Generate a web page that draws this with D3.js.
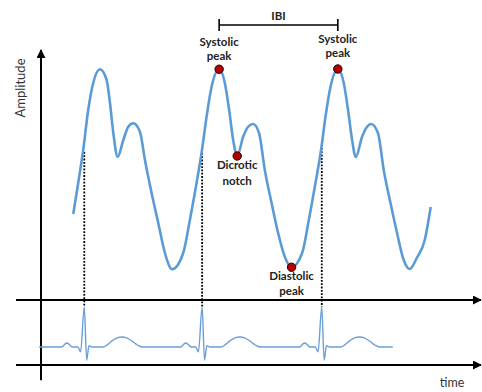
<!DOCTYPE html>
<html>
<head>
<meta charset="utf-8">
<script src="https://cdn.jsdelivr.net/npm/d3@7"></script>
<style>
body { margin: 0; background: #fff; }
svg { display: block; }
</style>
</head>
<body>
<script>
// PPG pulse wave (time in s, amplitude in a.u.)
var ppgTime = [0.271, 0.313, 0.355, 0.397, 0.439, 0.496, 0.552, 0.580, 0.608, 0.645,
	0.692, 0.734, 0.776, 0.832, 0.874, 0.930, 0.986, 1.042, 1.103,
	1.196, 1.252, 1.308, 1.350, 1.392, 1.434, 1.498, 1.546, 1.582, 1.616, 1.650,
	1.700, 1.742, 1.784, 1.834, 1.882, 1.939, 1.994, 2.050, 2.107,
	2.196, 2.252, 2.308, 2.355, 2.392, 2.434, 2.496, 2.546, 2.582, 2.616, 2.647,
	2.700, 2.742, 2.776, 2.834, 2.882, 2.939, 2.994, 3.050, 3.101,
	3.160, 3.227, 3.277]
var ppgAmp = [34.4, 46.8, 60.0, 76.0, 86.8, 92.3, 88.0, 78.8, 66.8, 57.3,
	64.0, 69.3, 70.7, 67.3, 56.0, 42.8, 30.8, 18.8, 12.3,
	18.8, 32.0, 46.8, 58.8, 73.2, 85.2, 92.3, 86.8, 76.0, 64.0, 57.6,
	65.3, 69.3, 70.4, 66.7, 52.0, 38.8, 26.8, 17.3, 13.1,
	18.8, 32.0, 46.8, 60.0, 73.2, 85.2, 92.4, 86.8, 76.0, 64.0, 57.2,
	65.3, 69.3, 70.4, 66.7, 52.0, 38.8, 26.8, 16.0, 12.4,
	16.8, 24.0, 37.2]

// ECG trace (time in s, mV)
var ecgTime = [-0.015, 0.176, 0.200, 0.218, 0.236, 0.261, 0.310, 0.333, 0.364, 0.384, 0.403, 0.430,
	0.521, 0.560, 0.600, 0.640, 0.681, 0.720, 0.765, 0.810, 0.849,
	1.176, 1.200, 1.218, 1.236, 1.261, 1.301, 1.324, 1.355, 1.375, 1.394, 1.421,
	1.512, 1.551, 1.591, 1.631, 1.672, 1.711, 1.756, 1.801, 1.840,
	2.176, 2.200, 2.218, 2.236, 2.261, 2.307, 2.330, 2.361, 2.381, 2.400, 2.427,
	2.518, 2.557, 2.597, 2.637, 2.678, 2.717, 2.762, 2.807, 2.846, 2.958]
var ecgMv = [0, 0, 0.07, 0.10, 0.07, 0, 0, -0.12, 1.0, -0.33, 0.03, 0,
	0, 0.06, 0.16, 0.23, 0.25, 0.23, 0.15, 0.05, 0,
	0, 0.07, 0.10, 0.07, 0, 0, -0.12, 1.0, -0.33, 0.03, 0,
	0, 0.06, 0.16, 0.23, 0.25, 0.23, 0.15, 0.05, 0,
	0, 0.07, 0.10, 0.07, 0, 0, -0.12, 1.0, -0.33, 0.03, 0,
	0, 0.06, 0.16, 0.23, 0.25, 0.23, 0.15, 0.05, 0, 0]

// R peaks and where the dotted line meets the pulse wave
var rPeakTime = [0.364, 1.355, 2.361]
var rPeakPpg = [59.2, 58.8, 60.8]

// annotated points on the pulse wave
var markerName = ["Systolic peak", "Dicrotic notch", "Diastolic peak", "Systolic peak"]
var markerTime = [1.498, 1.650, 2.107, 2.496]
var markerAmp = [92.3, 57.6, 13.1, 92.4]

var width = 482, height = 392

var svg = d3.select("body").append("svg")
	.attr("width", width)
	.attr("height", height)

var x = d3.scaleLinear().domain([0, 3.7]).range([41, 481])
var y = d3.scaleLinear().domain([0, 100]).range([300, 50])
var yEcg = d3.scaleLinear().domain([0, 1]).range([347, 307])

var defs = svg.append("defs")
defs.append("marker")
	.attr("id", "arrow")
	.attr("viewBox", "0 0 10 10")
	.attr("refX", 9).attr("refY", 5)
	.attr("markerWidth", 4.5).attr("markerHeight", 4.5)
	.attr("markerUnits", "strokeWidth")
	.attr("orient", "auto")
	.append("path")
	.attr("d", "M0,0L10,5L0,10Z")
	.attr("fill", "#000")

// axes
svg.append("line")
	.attr("x1", x(0)).attr("y1", yEcg(-0.83))
	.attr("x2", x(0)).attr("y2", y(100))
	.attr("stroke", "#000").attr("stroke-width", 2)
	.attr("marker-end", "url(#arrow)")

svg.append("line")
	.attr("x1", x(-0.21)).attr("y1", y(0))
	.attr("x2", x(3.7)).attr("y2", y(0))
	.attr("stroke", "#000").attr("stroke-width", 2)
	.attr("marker-end", "url(#arrow)")

svg.append("line")
	.attr("x1", x(-0.21)).attr("y1", yEcg(-0.45))
	.attr("x2", x(3.7)).attr("y2", yEcg(-0.45))
	.attr("stroke", "#000").attr("stroke-width", 2)
	.attr("marker-end", "url(#arrow)")

svg.append("text")
	.attr("transform", "translate(25," + 88 + ") rotate(-90)")
	.attr("text-anchor", "middle")
	.style("font-family", "Lato, sans-serif")
	.style("font-size", "13px")
	.attr("fill", "#333")
	.text("Amplitude")

svg.append("text")
	.attr("x", 452).attr("y", 387)
	.attr("text-anchor", "middle")
	.style("font-family", "Lato, sans-serif")
	.style("font-size", "12.5px")
	.attr("fill", "#333")
	.text("time")

// dotted lines from R peak up to the pulse wave
svg.selectAll(".rline")
	.data(rPeakTime)
	.enter().append("line")
	.attr("class", "rline")
	.attr("x1", function(d){ return x(d) })
	.attr("x2", function(d){ return x(d) })
	.attr("y1", function(d, i){ return y(rPeakPpg[i]) })
	.attr("y2", yEcg(1))
	.attr("stroke", "#000")
	.attr("stroke-width", 1.8)
	.attr("stroke-dasharray", "1.8,1.5")

// ECG
var ecgLine = d3.line()
	.x(function(d, i){ return x(ecgTime[i]) })
	.y(function(d){ return yEcg(d) })
	.curve(d3.curveMonotoneX)

svg.append("path")
	.attr("d", ecgLine(ecgMv))
	.attr("fill", "none")
	.attr("stroke", "#6a9fd6")
	.attr("stroke-width", 1.4)

// PPG
var ppgLine = d3.line()
	.x(function(d, i){ return x(ppgTime[i]) })
	.y(function(d){ return y(d) })
	.curve(d3.curveMonotoneX)

svg.append("path")
	.attr("d", ppgLine(ppgAmp))
	.attr("fill", "none")
	.attr("stroke", "#5b9bd5")
	.attr("stroke-width", 2.6)
	.attr("stroke-linejoin", "round")

// IBI bracket between the systolic peaks
var ibiY = 25
var ibi = svg.append("g")
	.attr("stroke", "#000").attr("stroke-width", 1.6)
ibi.append("line")
	.attr("x1", x(markerTime[0])).attr("x2", x(markerTime[3]))
	.attr("y1", ibiY).attr("y2", ibiY)
ibi.selectAll(".tick")
	.data([markerTime[0], markerTime[3]])
	.enter().append("line")
	.attr("x1", function(d){ return x(d) }).attr("x2", function(d){ return x(d) })
	.attr("y1", ibiY - 6).attr("y2", ibiY + 6)

svg.append("text")
	.attr("x", (x(markerTime[0]) + x(markerTime[3])) / 2)
	.attr("y", 19.5)
	.attr("text-anchor", "middle")
	.style("font-family", "Lato, sans-serif")
	.style("font-size", "11.5px")
	.style("font-weight", "bold")
	.attr("fill", "#222")
	.text("IBI")

// markers
svg.selectAll(".dot")
	.data(markerAmp)
	.enter().append("circle")
	.attr("class", "dot")
	.attr("cx", function(d, i){ return x(markerTime[i]) })
	.attr("cy", function(d){ return y(d) })
	.attr("r", 4.2)
	.attr("fill", "#b50000")
	.attr("stroke", "#2a0000")
	.attr("stroke-width", 1)

// label offsets (first line, second line) relative to each dot
var labelDy = [[-23, -9.5], [13, 28.5], [13, 27.5], [-26, -12.5]]

markerName.forEach(function(name, i){
	var words = name.split(" ")
	var t = svg.append("text")
		.attr("text-anchor", "middle")
		.style("font-family", "Lato, sans-serif")
		.style("font-size", "11.5px")
		.style("font-weight", "bold")
		.attr("fill", "#222")
	words.forEach(function(w, j){
		t.append("tspan")
			.attr("x", x(markerTime[i]))
			.attr("y", y(markerAmp[i]) + labelDy[i][j])
			.text(w)
	})
})
</script>
</body>
</html>
